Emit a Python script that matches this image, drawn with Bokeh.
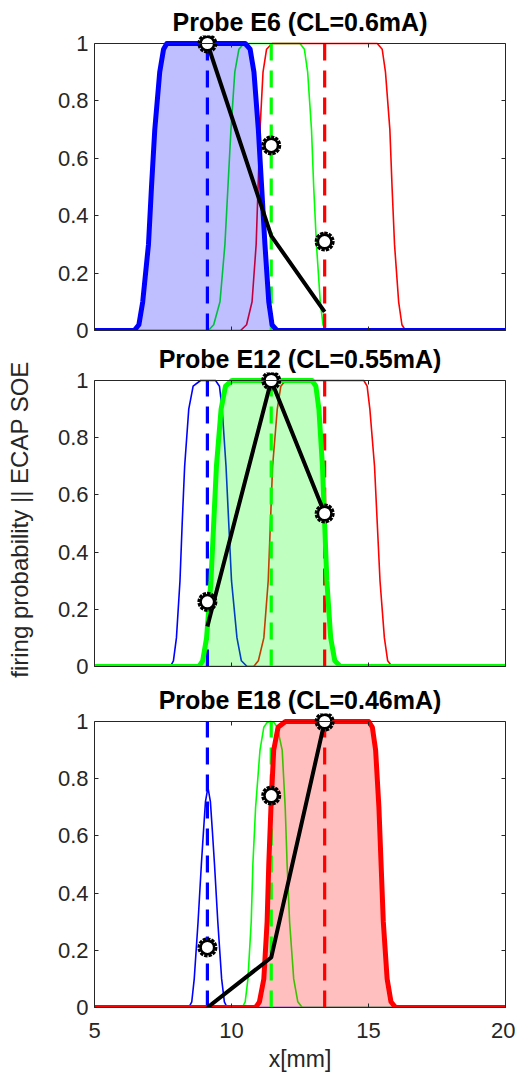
from bokeh.plotting import figure
from bokeh.models import Range1d, LinearAxis, FixedTicker
from bokeh.layouts import column
from bokeh.embed import file_html
from bokeh.resources import INLINE

# ---------------- data ----------------
titles = ["Probe E6 (CL=0.6mA)", "Probe E12 (CL=0.55mA)", "Probe E18 (CL=0.46mA)"]
electrode_x = [9.12, 11.45, 13.4]
electrode_colors = ["#0000ff", "#00ff00", "#ff0000"]
x_ticks = [5, 10, 15, 20]
x_tick_labels = ["5", "10", "15", "20"]
y_ticks = [0, 0.2, 0.4, 0.6, 0.8, 1]
y_tick_labels = ["0", "0.2", "0.4", "0.6", "0.8", "1"]
x_label = "x[mm]"
y_label = "firing probability || ECAP SOE"

# Probe E6
p1_blue_x = [5, 6.45, 6.62, 6.76, 6.97, 7.08, 7.2, 7.38, 7.52, 7.64, 10.5, 10.68, 10.82, 10.98, 11.1, 11.22, 11.36, 11.48, 11.66, 20]
p1_blue_y = [0, 0, 0.02, 0.1, 0.3, 0.5, 0.7, 0.9, 0.98, 1, 1, 0.98, 0.9, 0.7, 0.5, 0.3, 0.1, 0.02, 0, 0]
p1_green_x = [5, 9.15, 9.35, 9.58, 9.76, 9.87, 9.98, 10.12, 10.27, 10.45, 12.5, 12.66, 12.78, 12.92, 13.0, 13.1, 13.24, 13.34, 13.45, 20]
p1_green_y = [0, 0, 0.02, 0.1, 0.3, 0.5, 0.7, 0.9, 0.98, 1, 1, 0.98, 0.9, 0.7, 0.5, 0.3, 0.1, 0.02, 0, 0]
p1_red_x = [5, 10.33, 10.55, 10.75, 10.9, 10.97, 11.04, 11.15, 11.28, 11.48, 15.32, 15.5, 15.62, 15.78, 15.86, 15.95, 16.1, 16.22, 16.35, 20]
p1_red_y = [0, 0, 0.02, 0.1, 0.3, 0.5, 0.7, 0.9, 0.98, 1, 1, 0.98, 0.9, 0.7, 0.5, 0.3, 0.1, 0.02, 0, 0]
p1_ecap_y = [1.0, 0.33, 0.065]
p1_soe_y = [1.0, 0.645, 0.31]

# Probe E12
p2_blue_x = [5, 7.77, 7.88, 7.99, 8.12, 8.2, 8.29, 8.44, 8.6, 8.87, 9.42, 9.56, 9.66, 9.8, 9.9, 10.0, 10.2, 10.36, 10.57, 20]
p2_blue_y = [0, 0, 0.02, 0.1, 0.3, 0.5, 0.7, 0.9, 0.98, 1, 1, 0.98, 0.9, 0.7, 0.5, 0.3, 0.1, 0.02, 0, 0]
p2_green_x = [5, 8.81, 8.95, 9.09, 9.25, 9.35, 9.45, 9.62, 9.78, 10.02, 12.94, 13.08, 13.19, 13.32, 13.4, 13.48, 13.62, 13.77, 13.98, 20]
p2_green_y = [0, 0, 0.02, 0.1, 0.3, 0.5, 0.7, 0.9, 0.98, 1, 1, 0.98, 0.9, 0.7, 0.5, 0.3, 0.1, 0.02, 0, 0]
p2_red_x = [5, 10.81, 10.98, 11.18, 11.34, 11.42, 11.5, 11.67, 11.8, 11.97, 14.83, 14.95, 15.05, 15.22, 15.32, 15.42, 15.58, 15.7, 15.86, 20]
p2_red_y = [0, 0, 0.02, 0.1, 0.3, 0.5, 0.7, 0.9, 0.98, 1, 1, 0.98, 0.9, 0.7, 0.5, 0.3, 0.1, 0.02, 0, 0]
p2_ecap_y = [0.14, 1.0, 0.535]
p2_soe_y = [0.226, 1.0, 0.535]

# Probe E18
p3_blue_x = [5, 8.44, 8.55, 8.64, 8.78, 8.9, 8.98, 9.05, 9.14, 9.23, 9.3, 9.38, 9.5, 9.64, 9.74, 9.84, 20]
p3_blue_y = [0, 0, 0.02, 0.1, 0.3, 0.5, 0.62, 0.72, 0.77, 0.72, 0.62, 0.5, 0.3, 0.1, 0.02, 0, 0]
p3_green_x = [5, 10.39, 10.5, 10.6, 10.72, 10.78, 10.88, 11.04, 11.18, 11.3, 11.42, 11.55, 11.67, 11.85, 11.96, 12.03, 12.12, 12.27, 12.42, 12.58, 20]
p3_green_y = [0, 0, 0.02, 0.1, 0.3, 0.5, 0.7, 0.9, 0.98, 0.997, 1, 0.997, 0.98, 0.9, 0.7, 0.5, 0.3, 0.1, 0.02, 0, 0]
p3_red_x = [5, 10.88, 11.02, 11.18, 11.3, 11.36, 11.44, 11.54, 11.7, 11.97, 15.01, 15.14, 15.26, 15.38, 15.46, 15.54, 15.68, 15.82, 15.99, 20]
p3_red_y = [0, 0, 0.02, 0.1, 0.3, 0.5, 0.7, 0.9, 0.98, 1, 1, 0.98, 0.9, 0.7, 0.5, 0.3, 0.1, 0.02, 0, 0]
p3_ecap_y = [0.0, 0.175, 1.0]
p3_soe_y = [0.21, 0.741, 1.0]

panels = [
    dict(title=titles[0], curves=[(p1_blue_x, p1_blue_y), (p1_green_x, p1_green_y), (p1_red_x, p1_red_y)],
         hi=0, ecap=p1_ecap_y, soe=p1_soe_y),
    dict(title=titles[1], curves=[(p2_blue_x, p2_blue_y), (p2_green_x, p2_green_y), (p2_red_x, p2_red_y)],
         hi=1, ecap=p2_ecap_y, soe=p2_soe_y),
    dict(title=titles[2], curves=[(p3_blue_x, p3_blue_y), (p3_green_x, p3_green_y), (p3_red_x, p3_red_y)],
         hi=2, ecap=p3_ecap_y, soe=p3_soe_y),
]

# ---------------- styling / layout ----------------
FONT = "Liberation Sans"
AX = "#262626"
FRAME_W = 411
BOX_H = [287, 286, 286]
TOP_PAD = 8
BORDER_TOP = [35, 28, 34]
BORDER_BOTTOM = [12, 13, 75]


def hide_labels(axis):
    axis.major_label_text_font_size = "1px"
    axis.major_label_text_color = None
    axis.major_label_standoff = 0


def make_panel(i, cfg):
    box_h = BOX_H[i]
    p = figure(frame_width=FRAME_W, frame_height=box_h + TOP_PAD,
               x_range=Range1d(5, 20), y_range=Range1d(0, 1 + TOP_PAD / box_h),
               x_axis_location=None, y_axis_location=None,
               output_backend="svg", toolbar_location=None,
               min_border_left=94, min_border_right=10,
               min_border_top=BORDER_TOP[i], min_border_bottom=BORDER_BOTTOM[i],
               background_fill_color="white", border_fill_color="white")
    p.outline_line_color = None
    p.xgrid.grid_line_color = None
    p.ygrid.grid_line_color = None

    p.title.text = cfg["title"]
    p.title.text_font = FONT
    p.title.text_font_size = "25px"
    p.title.text_font_style = "bold"
    p.title.text_color = "black"
    p.title.align = "center"
    p.title.standoff = 0

    common = dict(axis_line_color=AX, major_tick_line_color=AX, minor_tick_line_color=None,
                  axis_line_width=1, major_tick_line_width=1)

    left = LinearAxis(ticker=FixedTicker(ticks=y_ticks),
                      major_label_overrides=dict(zip(y_ticks, y_tick_labels)),
                      bounds=(0, 1), major_tick_in=4, major_tick_out=0,
                      major_label_text_font=FONT, major_label_text_font_size="22px",
                      major_label_text_color=AX, major_label_standoff=6, **common)
    if i == 1:
        left.axis_label = y_label
        left.axis_label_text_font = FONT
        left.axis_label_text_font_size = "24px"
        left.axis_label_text_font_style = "normal"
        left.axis_label_text_color = AX
        left.axis_label_standoff = 22
    p.add_layout(left, "left")

    right = LinearAxis(ticker=FixedTicker(ticks=y_ticks), bounds=(0, 1),
                       major_tick_in=4, major_tick_out=0, **common)
    hide_labels(right)
    p.add_layout(right, "right")

    bottom = LinearAxis(ticker=FixedTicker(ticks=x_ticks),
                        major_label_overrides=dict(zip(x_ticks, x_tick_labels)),
                        major_tick_in=4, major_tick_out=0, **common)
    if i == 2:
        bottom.major_label_text_font = FONT
        bottom.major_label_text_font_size = "22px"
        bottom.major_label_text_color = AX
        bottom.major_label_standoff = 15
        bottom.axis_label = x_label
        bottom.axis_label_text_font = FONT
        bottom.axis_label_text_font_size = "23px"
        bottom.axis_label_text_font_style = "normal"
        bottom.axis_label_text_color = AX
        bottom.axis_label_standoff = 5
    else:
        hide_labels(bottom)
    p.add_layout(bottom, "below")

    top = LinearAxis(ticker=FixedTicker(ticks=x_ticks), fixed_location=1,
                     major_tick_in=0, major_tick_out=4, **common)
    hide_labels(top)
    p.add_layout(top, "below")

    hi = cfg["hi"]
    # thin curves of the other probes
    for k, (cx, cy) in enumerate(cfg["curves"]):
        if k != hi:
            p.line(cx, cy, line_color=electrode_colors[k], line_width=1.6, line_join="round")
    hx, hy = cfg["curves"][hi]
    p.varea(x=hx, y1=0, y2=hy, fill_color=electrode_colors[hi], fill_alpha=0.25)
    # electrode positions
    p.segment(x0=electrode_x, y0=0, x1=electrode_x, y1=1, line_color=electrode_colors,
              line_width=3.2, line_dash="17 10")
    # own probe profile (thick)
    p.line(hx, hy, line_color=electrode_colors[hi], line_width=5, line_join="round")
    # ECAP line and SOE markers (notched ring + solid inner ring)
    p.line(electrode_x, cfg["ecap"], line_color="black", line_width=4)
    p.scatter(electrode_x, cfg["soe"], marker="circle", size=15.5, fill_color="white",
              line_color="black", line_width=4.5, line_dash="3 1")
    p.scatter(electrode_x, cfg["soe"], marker="circle", size=13.5, fill_color="white",
              line_color="black", line_width=2.5)
    return p


figs = [make_panel(i, c) for i, c in enumerate(panels)]
layout = column(*figs, spacing=0)
open("out.html", "w").write(file_html(layout, INLINE))
